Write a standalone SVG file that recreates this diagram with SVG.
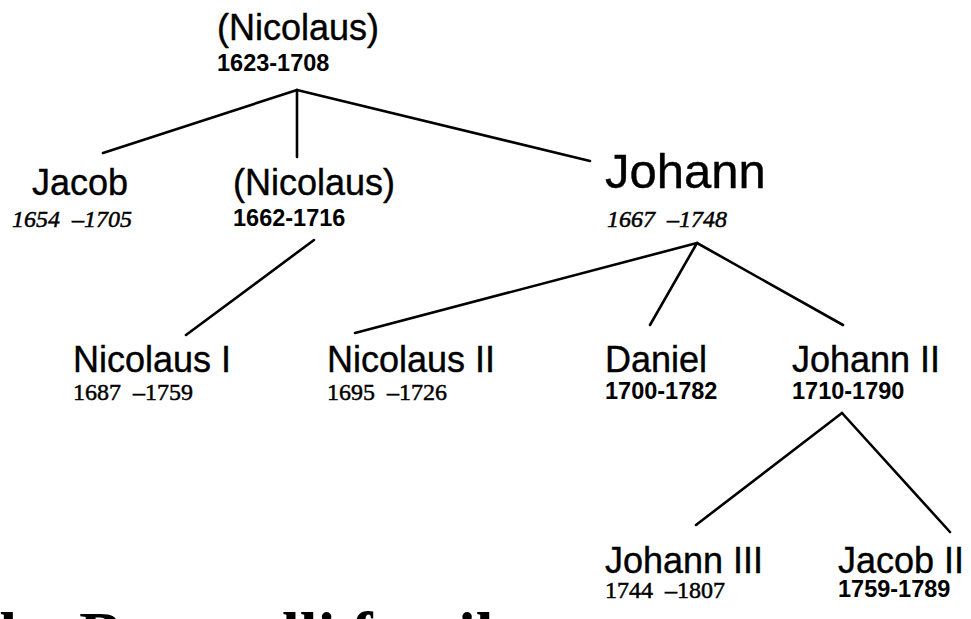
<svg xmlns="http://www.w3.org/2000/svg" width="971" height="619" viewBox="0 0 971 619">
<style>
.name{font-family:"Liberation Sans",Arial,sans-serif;font-size:36px;fill:#000;stroke:#000;stroke-width:0.4}
.big{font-size:49px}
.ds{font-family:"Liberation Sans",Arial,sans-serif;font-size:23.5px;font-weight:bold;fill:#000}
.di{font-family:"Liberation Serif","Times New Roman",serif;font-size:24px;font-style:italic;fill:#000;stroke:#000;stroke-width:0.5;white-space:pre}
.dr{font-family:"Liberation Serif","Times New Roman",serif;font-size:24px;fill:#000;stroke:#000;stroke-width:0.5;white-space:pre}
.title{font-family:"Liberation Serif","Times New Roman",serif;font-size:64px;font-weight:bold;fill:#000}
#edges line{stroke:#000;stroke-width:2.6;stroke-linecap:round}
</style>
<rect width="971" height="619" fill="#fff"/>
<g id="edges">
<line x1="297" y1="90" x2="103" y2="153"/>
<line x1="297" y1="90" x2="297" y2="157"/>
<line x1="297" y1="90" x2="590" y2="161"/>
<line x1="314" y1="240" x2="186" y2="335"/>
<line x1="697" y1="243" x2="355" y2="333"/>
<line x1="697" y1="243" x2="650" y2="325"/>
<line x1="697" y1="243" x2="843" y2="325"/>
<line x1="842" y1="413" x2="696" y2="525"/>
<line x1="842" y1="413" x2="950" y2="532"/>
</g>
<g id="nicolaus-1623"><text class="name" x="217" y="40">(Nicolaus)</text><text class="ds" x="217" y="71">1623-1708</text></g>
<g id="jacob"><text class="name" x="32" y="195">Jacob</text><text class="di" x="12" y="227">1654  –1705</text></g>
<g id="nicolaus-1662"><text class="name" x="233" y="195">(Nicolaus)</text><text class="ds" x="233" y="226">1662-1716</text></g>
<g id="johann"><text class="name big" x="605" y="188">Johann</text><text class="di" x="607" y="227">1667  –1748</text></g>
<g id="nicolaus-i"><text class="name" x="73" y="372">Nicolaus I</text><text class="dr" x="73" y="400">1687  –1759</text></g>
<g id="nicolaus-ii"><text class="name" x="327" y="372">Nicolaus II</text><text class="dr" x="327" y="400">1695  –1726</text></g>
<g id="daniel"><text class="name" x="605" y="372">Daniel</text><text class="ds" x="605" y="399">1700-1782</text></g>
<g id="johann-ii"><text class="name" x="792" y="372">Johann II</text><text class="ds" x="792" y="399">1710-1790</text></g>
<g id="johann-iii"><text class="name" x="605" y="573">Johann III</text><text class="dr" x="605" y="598">1744  –1807</text></g>
<g id="jacob-ii"><text class="name" x="838" y="573">Jacob II</text><text class="ds" x="838" y="597">1759-1789</text></g>
<text class="title" x="-22" y="656">the Bernoulli family</text>
</svg>
